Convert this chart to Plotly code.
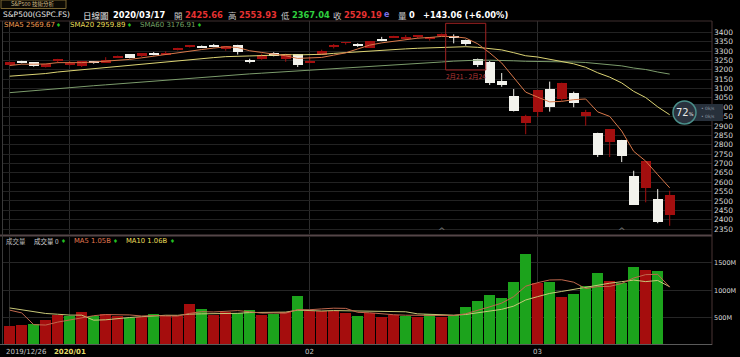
import numpy as np
import pandas as pd
import plotly.graph_objects as go

# ---------------- data ----------------
dates = ["2019/12/26", "2019/12/27", "2019/12/30", "2019/12/31",
         "2020/01/02", "2020/01/03", "2020/01/06", "2020/01/07", "2020/01/08", "2020/01/09", "2020/01/10",
         "2020/01/13", "2020/01/14", "2020/01/15", "2020/01/16", "2020/01/17", "2020/01/21", "2020/01/22",
         "2020/01/23", "2020/01/24", "2020/01/27", "2020/01/28", "2020/01/29", "2020/01/30", "2020/01/31",
         "2020/02/03", "2020/02/04", "2020/02/05", "2020/02/06", "2020/02/07", "2020/02/10", "2020/02/11",
         "2020/02/12", "2020/02/13", "2020/02/14", "2020/02/18", "2020/02/19", "2020/02/20", "2020/02/21",
         "2020/02/24", "2020/02/25", "2020/02/26", "2020/02/27", "2020/02/28",
         "2020/03/02", "2020/03/03", "2020/03/04", "2020/03/05", "2020/03/06", "2020/03/09", "2020/03/10",
         "2020/03/11", "2020/03/12", "2020/03/13", "2020/03/16", "2020/03/17"]

opens = [3227.20, 3247.23, 3240.09, 3215.18,
         3244.67, 3226.36, 3217.55, 3241.86, 3238.59, 3266.03, 3281.81,
         3271.13, 3285.35, 3282.27, 3302.97, 3323.66, 3321.03, 3330.02,
         3315.77, 3333.10, 3247.16, 3255.35, 3289.46, 3256.45, 3282.33,
         3235.66, 3280.61, 3324.91, 3344.92, 3335.54, 3318.28, 3365.87,
         3370.50, 3365.90, 3378.08, 3369.04, 3380.39, 3380.45, 3360.50,
         3257.61, 3238.94, 3139.90, 3062.54, 2916.90,
         2974.28, 3096.46, 3045.75, 3075.70, 2954.20, 2863.89, 2813.48,
         2825.60, 2630.86, 2569.99, 2508.59, 2425.66]
highs = [3240.08, 3247.93, 3240.92, 3231.72,
         3258.14, 3246.15, 3246.84, 3244.91, 3267.07, 3275.58, 3282.99,
         3288.13, 3294.25, 3298.66, 3317.11, 3329.88, 3329.79, 3337.77,
         3326.88, 3333.18, 3258.85, 3285.78, 3293.47, 3285.91, 3282.33,
         3268.44, 3306.92, 3337.58, 3347.96, 3341.42, 3352.26, 3375.63,
         3381.47, 3385.09, 3380.69, 3375.01, 3393.52, 3389.15, 3360.76,
         3259.81, 3246.99, 3182.51, 3097.07, 2959.72,
         3090.96, 3136.72, 3130.97, 3083.04, 2985.93, 2863.89, 2882.59,
         2825.60, 2660.95, 2711.33, 2562.98, 2553.93]
lows = [3227.20, 3234.37, 3216.57, 3212.03,
        3235.53, 3222.34, 3214.64, 3232.43, 3236.67, 3263.67, 3260.86,
        3268.43, 3277.19, 3280.69, 3302.82, 3318.86, 3316.61, 3320.04,
        3301.87, 3281.53, 3234.50, 3253.22, 3271.89, 3242.80, 3214.68,
        3235.66, 3280.61, 3313.75, 3334.39, 3322.12, 3317.77, 3352.72,
        3369.72, 3360.52, 3366.15, 3355.61, 3378.83, 3341.02, 3328.45,
        3214.65, 3118.77, 3108.99, 2977.39, 2855.84,
        2948.23, 2976.63, 3034.38, 2999.83, 2901.54, 2734.43, 2734.00,
        2707.22, 2478.86, 2492.37, 2380.94, 2367.04]
closes = [3239.91, 3240.02, 3221.29, 3230.78,
          3257.85, 3234.85, 3246.28, 3237.18, 3253.05, 3274.70, 3265.35,
          3288.13, 3283.15, 3289.29, 3316.81, 3329.62, 3320.79, 3321.75,
          3325.54, 3295.47, 3243.63, 3276.24, 3273.40, 3283.66, 3225.52,
          3248.92, 3297.59, 3334.69, 3345.78, 3327.71, 3352.09, 3357.75,
          3379.45, 3373.94, 3380.16, 3370.29, 3386.15, 3373.23, 3337.75,
          3225.89, 3128.21, 3116.39, 2978.76, 2954.22,
          3090.23, 3003.37, 3130.12, 3023.94, 2972.37, 2746.56, 2882.23,
          2741.38, 2480.64, 2711.02, 2386.13, 2529.19]
# volume in millions (today's volume not yet reported -> 0)
volumes_m = [341, 367, 378, 463,
             542, 531, 610, 531, 568, 537, 500,
             513, 573, 531, 531, 743, 665, 549,
             610, 579, 634, 542, 560, 597, 897,
             628, 615, 628, 579, 537, 585, 510,
             555, 537, 518, 567, 512, 555, 701,
             811, 908, 853, 1146, 1657,
             1134, 1152, 871, 926, 1072, 1316, 1170,
             1134, 1432, 1377, 1347, 0]

# closes before the window (2019/09/30 .. 2019/12/24), used for the moving averages
prior_closes = [2976.74,
                2940.25, 2887.61, 2910.63, 2952.01, 2938.79, 2893.06, 2919.40, 2938.13, 2970.27, 2966.15,
                2995.68, 2989.69, 2997.95, 2986.20, 3006.72, 2995.99, 3004.52, 3010.29, 3022.55, 3039.42,
                3036.89, 3046.77, 3037.56,
                3066.91, 3078.27, 3074.62, 3076.78, 3085.18, 3093.08, 3087.01, 3091.84, 3094.04, 3096.63,
                3120.46, 3122.03, 3120.18, 3108.46, 3103.54, 3110.29, 3133.64, 3140.52, 3153.63, 3140.98,
                3113.87, 3093.20, 3112.76, 3117.43, 3145.91, 3135.96, 3132.52, 3141.63, 3168.57, 3168.80,
                3191.45, 3192.52, 3191.14, 3205.37, 3221.22, 3224.01, 3223.38]
# volumes before the window (2019/12/12 .. 2019/12/24), millions, estimated
prior_volumes_m = [740, 775, 700, 680, 690, 620, 1450, 500, 274]

price_ticks = list(range(2350, 3401, 50))
volume_ticks = [500, 1000, 1500]
volume_tick_text = ["500M", "1000M", "1500M"]
x_tick_labels = ["2019/12/26", "2020/01", "02", "03"]
x_tick_dates = ["2019/12/26", "2020/01/03", "2020/02/03", "2020/03/02"]
event_dates = ["2020/02/19", "2020/03/11"]
box_dates = ["2020/02/19", "2020/02/24"]
box_label_date = "2020/02/21"
box_label = "2月21 - 2月24"

# ---------------- computation ----------------
n = len(dates)
idx = np.arange(n)
O = np.array(opens); H = np.array(highs); L = np.array(lows); C = np.array(closes)
allc = pd.Series(prior_closes + closes, dtype=float)
np_ = len(prior_closes)
sma5 = allc.rolling(5).mean().values[np_:]
sma20 = allc.rolling(20).mean().values[np_:]
sma60 = allc.rolling(60).mean().values[np_:]
allv = pd.Series(prior_volumes_m + volumes_m, dtype=float)
nv = len(prior_volumes_m)
vma5 = allv.rolling(5, min_periods=1).mean().values[nv:]
vma10 = allv.rolling(10, min_periods=1).mean().values[nv:]

UP = "#a30f0f"
DOWN = "#f2f2ec"
VUP = "#a50d0d"
VDN = "#1ca31c"

up = C >= O
body_lo = np.minimum(O, C)
body_h = np.abs(C - O)
min_h = 5.0
pad = np.where(body_h < min_h, (min_h - body_h) / 2, 0)
body_base = body_lo - pad
body_hh = np.maximum(body_h, min_h)
body_colors = [UP if u else DOWN for u in up]

prev_close = np.array([prior_closes[-1]] + closes[:-1])
vol_colors = [VUP if c >= p else VDN for c, p in zip(C, prev_close)]

def px(x):
    return x / 740.0

def py(y):
    return 1 - y / 357.0

pos = {d: i for i, d in enumerate(dates)}

fig = go.Figure()

# wicks
for flag, col in [(True, UP), (False, DOWN)]:
    wx, wy = [], []
    for i in idx:
        if up[i] == flag:
            wx += [i, i, None]
            wy += [L[i], H[i], None]
    fig.add_trace(go.Scatter(x=wx, y=wy, mode="lines", line=dict(color=col, width=1),
                             hoverinfo="skip", xaxis="x", yaxis="y"))
# bodies
fig.add_trace(go.Bar(x=idx, y=body_hh, base=body_base, width=0.86,
                     marker=dict(color=body_colors, line=dict(width=0)),
                     xaxis="x", yaxis="y", hoverinfo="skip"))
# SMAs
fig.add_trace(go.Scatter(x=idx, y=sma60, mode="lines", line=dict(color="#7c9c6c", width=1), xaxis="x", yaxis="y"))
fig.add_trace(go.Scatter(x=idx, y=sma20, mode="lines", line=dict(color="#dcd474", width=1), xaxis="x", yaxis="y"))
fig.add_trace(go.Scatter(x=idx, y=sma5, mode="lines", line=dict(color="#d8784a", width=1), xaxis="x", yaxis="y"))

# volume
fig.add_trace(go.Bar(x=idx, y=volumes_m, width=0.9, marker=dict(color=vol_colors, line=dict(width=0)),
                     xaxis="x2", yaxis="y2", hoverinfo="skip"))
fig.add_trace(go.Scatter(x=idx, y=vma10, mode="lines", line=dict(color="#c8c878", width=1), xaxis="x2", yaxis="y2"))
fig.add_trace(go.Scatter(x=idx, y=vma5, mode="lines", line=dict(color="#c0684e", width=1), xaxis="x2", yaxis="y2"))

xr = [(3 - 9.7) / 12.0, (712 - 9.7) / 12.0]
grid_x = [pos[d] for d in x_tick_dates]
xcommon = dict(domain=[px(3), px(712)], range=xr, tickvals=grid_x, showticklabels=False,
               showgrid=True, gridcolor="#2c2c2c", gridwidth=1, zeroline=False, showline=False, ticks="")

fig.update_layout(
    width=740, height=357, margin=dict(l=0, r=0, t=0, b=0),
    paper_bgcolor="#000000", plot_bgcolor="#000000", showlegend=False, bargap=0,
    xaxis=dict(**xcommon, anchor="y"),
    xaxis2=dict(**xcommon, anchor="y2"),
    yaxis=dict(domain=[py(234), py(21)], range=[2323.3, 3460.3], side="right", anchor="x",
               tickvals=price_ticks, ticktext=[str(t) for t in price_ticks],
               tickfont=dict(family="DejaVu Sans", size=7.5, color="#d8d8d8"),
               showgrid=True, gridcolor="#222222", zeroline=False, ticks="", ticklabelstandoff=1),
    yaxis2=dict(domain=[py(345), py(237)], range=[0, 1974], side="right", anchor="x2",
                tickvals=volume_ticks, ticktext=volume_tick_text,
                tickfont=dict(family="DejaVu Sans", size=6.5, color="#d8d8d8"),
                showgrid=True, gridcolor="#262626", zeroline=False, ticks="", ticklabelstandoff=1),
)

shapes = []
# frame lines
shapes.append(dict(type="line", xref="paper", yref="paper", x0=0, x1=px(712), y0=py(21), y1=py(21),
                   line=dict(color="#3e2e2e", width=1)))
shapes.append(dict(type="line", xref="paper", yref="paper", x0=0, x1=px(712), y0=py(235.5), y1=py(235.5),
                   line=dict(color="#554648", width=2)))
shapes.append(dict(type="line", xref="paper", yref="paper", x0=px(712), x1=px(712), y0=py(21), y1=py(345),
                   line=dict(color="#4a3434", width=1)))
shapes.append(dict(type="line", xref="paper", yref="paper", x0=px(2.5), x1=px(2.5), y0=py(21), y1=py(345),
                   line=dict(color="#3a3a3a", width=1)))
shapes.append(dict(type="line", xref="paper", yref="paper", x0=0, x1=px(712), y0=py(344.5), y1=py(344.5),
                   line=dict(color="#5a5a5a", width=1)))
# highlight box
shapes.append(dict(type="rect", xref="x", yref="paper", x0=pos[box_dates[0]] + 0.33, x1=pos[box_dates[1]] + 0.67,
                   y0=py(70), y1=py(23.3), line=dict(color="#a02222", width=1), fillcolor="rgba(0,0,0,0)"))
# tab at top-left
shapes.append(dict(type="rect", xref="paper", yref="paper", x0=px(1), x1=px(66), y0=py(8.5), y1=py(0),
                   line=dict(color="#7a6632", width=1), fillcolor="#0c0a04"))
# speed widget
shapes.append(dict(type="rect", xref="paper", yref="paper", x0=px(686), x1=px(723), y0=py(121), y1=py(104),
                   line=dict(color="#2c3440", width=0), fillcolor="#27303b"))
shapes.append(dict(type="circle", xref="paper", yref="paper", x0=px(673), x1=px(696), y0=py(124), y1=py(101),
                   line=dict(color="#4a8f8a", width=1.5), fillcolor="#2a323e"))
fig.update_layout(shapes=shapes)

ann = []
def text(x, y, s, color="#e0e0e0", size=8, family="DejaVu Sans", bold=False, anchor="left"):
    ann.append(dict(xref="paper", yref="paper", x=px(x), y=py(y), text=("<b>%s</b>" % s) if bold else s,
                    showarrow=False, xanchor=anchor, yanchor="middle",
                    font=dict(color=color, size=size, family=family)))

CJK = "Noto Sans CJK TC"
RED = "#e63232"
GRN = "#2fcf3f"
last = n - 1
chg = C[last] - C[last - 1]
pct = chg / C[last - 1] * 100

text(9, 4.3, "S&P500 技術分析", "#cdb884", 5.5, CJK)
text(1, 15, "S&P500(GSPC.FS)", "#e6e6e6", 7.5)
text(81, 15, "日線圖", "#e6e6e6", 8.5, CJK)
text(111, 15, dates[last], "#ffffff", 8.3, bold=True)
text(172, 15, "開", "#c8c8c8", 8.5, CJK)
text(183, 15, "%.2f" % O[last], RED, 8.3, bold=True)
text(226, 15, "高", "#c8c8c8", 8.5, CJK)
text(237, 15, "%.2f" % H[last], RED, 8.3, bold=True)
text(279, 15, "低", "#c8c8c8", 8.5, CJK)
text(290, 15, "%.2f" % L[last], GRN, 8.3, bold=True)
text(331, 15, "收", "#c8c8c8", 8.5, CJK)
text(342, 15, "%.2f" % C[last], RED, 8.3, bold=True)
text(382, 15, "e", "#7a72e6", 8, bold=True)
text(396, 15, "量", "#c8c8c8", 8.5, CJK)
text(407, 15, "%d" % volumes_m[last], "#ffffff", 8.3, bold=True)
text(421, 15, "%+.2f (%+.2f%%)" % (chg, pct), "#ffffff", 8.3, bold=True)

text(2, 25.5, "SMA5 %.2f" % sma5[last], "#f09a50", 7)
text(54, 25.5, "♦", "#22c022", 5.5)
text(68, 25.5, "SMA20 %.2f" % sma20[last], "#ecdf5a", 7)
text(125, 25.5, "♦", "#22c022", 5.5)
text(138, 25.5, "SMA60 %.2f" % sma60[last], "#74a064", 7)
text(195, 25.5, "♦", "#22c022", 5.5)

text(4, 241, "成交量", "#b8b8b8", 6.5, CJK)
text(32, 241, "成交量 %d" % volumes_m[last], "#d0d0d0", 6.5, CJK)
text(59, 241, "♦", "#22c022", 5.5)
text(72, 241, "MA5 %.2fB" % (np.floor(vma5[last] / 10) / 100), "#e27850", 6.8)
text(111, 241, "♦", "#22c022", 5.5)
text(124, 241, "MA10 %.2fB" % (np.floor(vma10[last] / 10) / 100), "#ecdf5a", 6.8)
text(168, 241, "♦", "#22c022", 5.5)

# x labels
ann.append(dict(xref="paper", yref="paper", x=px(3.5), y=py(351.5), text=x_tick_labels[0], showarrow=False,
                xanchor="left", yanchor="middle", font=dict(color="#c8c8c8", size=7, family="DejaVu Sans")))
for lab, d in zip(x_tick_labels[1:], x_tick_dates[1:]):
    is_year = "/" in lab
    ann.append(dict(xref="x2", yref="paper", x=pos[d], y=py(351.5), text=("<b>%s</b>" % lab) if is_year else lab,
                    showarrow=False, xanchor="center", yanchor="middle",
                    font=dict(color="#e6dc6a" if is_year else "#c8c8c8", size=7, family="DejaVu Sans")))

# box label
ann.append(dict(xref="x", yref="paper", x=pos[box_label_date], y=py(75.5),
                text=box_label, showarrow=False, xanchor="center", yanchor="middle",
                font=dict(color="#b83636", size=6.5, family=CJK)))
# event carets
for d in event_dates:
    ann.append(dict(xref="x", yref="paper", x=pos[d], y=py(231), text="^", showarrow=False,
                    xanchor="center", yanchor="middle", font=dict(color="#7a7a7a", size=9, family="DejaVu Sans")))

# widget text
text(684.5, 112.5, "72<span style='font-size:5px'>%</span>", "#e8e8e8", 10, anchor="center")
text(699, 108, "• 0k/s", "#8a94a0", 4.5)
text(699, 117, "• 0k/s", "#8a94a0", 4.5)

fig.update_layout(annotations=ann)
fig.write_html("out.html", config={"displayModeBar": False},
               post_script="document.body.style.margin='0';document.body.style.padding='0';")
